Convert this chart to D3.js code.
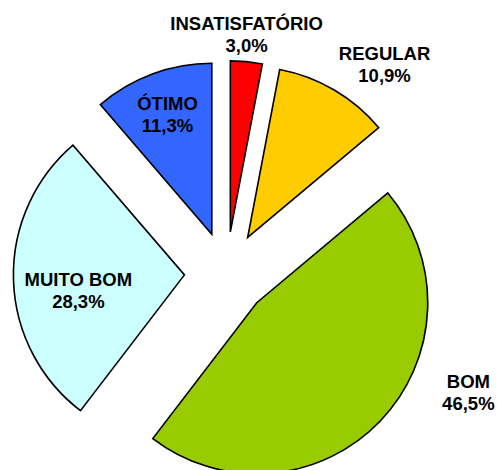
<!DOCTYPE html>
<html>
    <head>
        <meta charset="utf-8">
        <script src="https://d3js.org/d3.v7.min.js"></script>
        <style>
            body { margin: 0; background: #fff; }
            text { font-family: "Liberation Sans", Arial, sans-serif; font-weight: bold; font-size: 18.5px; fill: #000; }
        </style>
    </head>
    <body>
        <div id="my_dataviz"></div>
        <script>

            // chart data
            var categories = ["INSATISFATÓRIO", "REGULAR", "BOM", "MUITO BOM", "ÓTIMO"];
            var values = [3.0, 10.9, 46.5, 28.3, 11.3];
            var valueLabels = ["3,0%", "10,9%", "46,5%", "28,3%", "11,3%"];

            var colors = ["#ff0000", "#ffcc00", "#99cc00", "#ccffff", "#3366ff"];

            var width = 497,
                height = 470,
                radius = 171,
                explode = 42;

            var cx = 226.4, cy = 273.7;

            // where each label sits, polar around the pie center (degrees clockwise from top, px)
            var labelPolar = {
                "INSATISFATÓRIO": [4.8, 240.8],
                "REGULAR": [37.0, 262.8],
                "BOM": [116.0, 269.2],
                "MUITO BOM": [263.8, 148.9],
                "ÓTIMO": [339.8, 170.5]
            };

            var svg = d3.select("#my_dataviz")
                .append("svg")
                    .attr("width", width)
                    .attr("height", height)
                .append("g")
                    .attr("transform", `translate(${cx}, ${cy})`);

            var color = d3.scaleOrdinal().domain(categories).range(colors);

            var pie = d3.pie().sort(null).value(function(d) { return d[1]; });
            var data_ready = pie(categories.map(function(c, i) { return [c, values[i], valueLabels[i]]; }));

            var arcGenerator = d3.arc()
                .innerRadius(0)
                .outerRadius(radius);

            // slices, each pushed out along its middle angle
            svg.selectAll("slices")
                .data(data_ready)
                .join("path")
                    .attr("d", arcGenerator)
                    .attr("transform", function(d) {
                        var a = (d.startAngle + d.endAngle) / 2;
                        return `translate(${explode * Math.sin(a)}, ${-explode * Math.cos(a)})`;
                    })
                    .attr("fill", function(d) { return color(d.data[0]); })
                    .attr("stroke", "black")
                    .style("stroke-width", "1.6px")
                    .style("stroke-linejoin", "miter");

            // labels: name and percentage on two lines
            var labels = svg.selectAll("labels")
                .data(data_ready)
                .join("text")
                    .attr("text-anchor", "middle")
                    .attr("transform", function(d) {
                        var p = labelPolar[d.data[0]];
                        var a = p[0] * Math.PI / 180;
                        return `translate(${p[1] * Math.sin(a)}, ${-p[1] * Math.cos(a)})`;
                    });

            labels.append("tspan")
                .attr("x", 0)
                .attr("y", -4)
                .text(function(d) { return d.data[0]; });

            labels.append("tspan")
                .attr("x", 0)
                .attr("y", 18)
                .text(function(d) { return d.data[2]; });
        </script>
    </body>
</html>
